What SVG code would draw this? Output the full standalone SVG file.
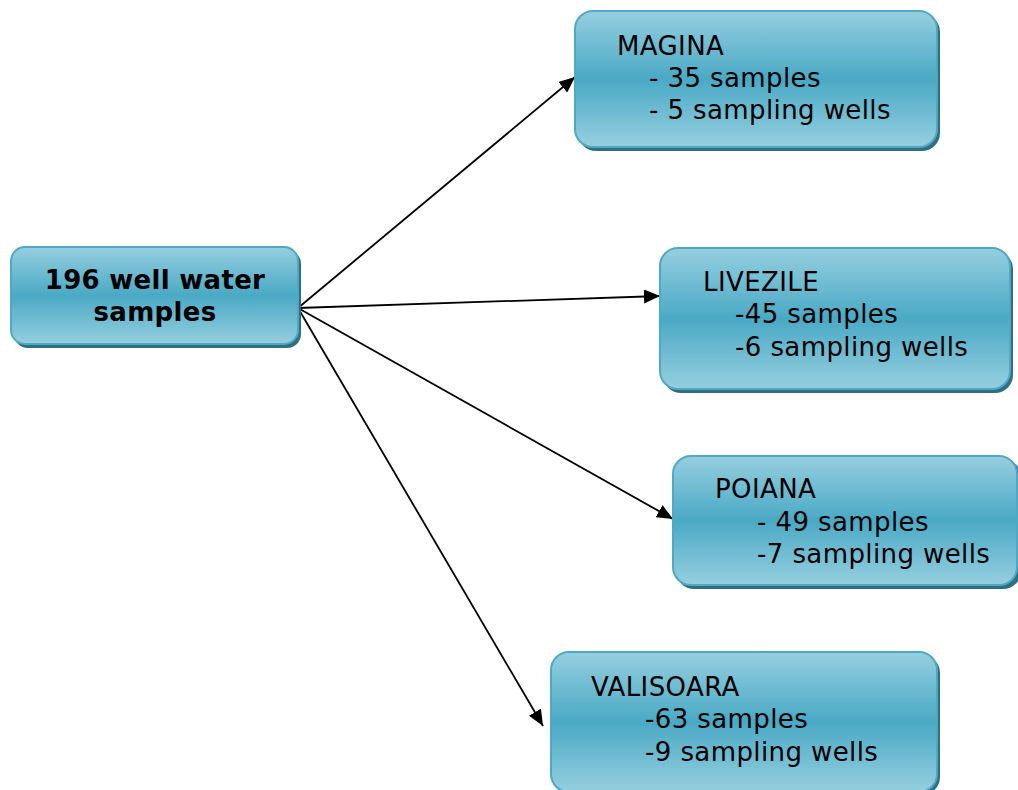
<svg xmlns="http://www.w3.org/2000/svg" width="1018" height="790" viewBox="0 0 1018 790">
<defs>
<linearGradient id="g" x1="0" y1="0" x2="0" y2="1">
<stop offset="0" stop-color="#96cfdf"/>
<stop offset="0.5" stop-color="#4aa9c5"/>
<stop offset="1" stop-color="#96cfdf"/>
</linearGradient>
<marker id="ah" markerWidth="16" markerHeight="14" refX="16" refY="7" orient="auto" markerUnits="userSpaceOnUse" viewBox="0 0 16 14">
<path d="M0,0 L16,7 L0,14 z" fill="#000"/>
</marker>
<style>
.sh{fill:#2f6f82;}
.bx{fill:url(#g);stroke:#4fa8c4;stroke-width:2;}
.t{font-family:"DejaVu Sans",Verdana,sans-serif;font-size:26px;letter-spacing:0.4px;fill:#000;}
.b{font-weight:bold;font-size:26px;letter-spacing:0.3px;}
.c{stroke:#000;stroke-width:1.8;fill:none;marker-end:url(#ah);}
</style>
</defs>
<rect width="1018" height="790" fill="#fff"/>
<g id="connectors">
<line class="c" x1="298" y1="308" x2="575" y2="77"/>
<line class="c" x1="298" y1="308" x2="660" y2="296"/>
<line class="c" x1="298" y1="308" x2="673" y2="519"/>
<line class="c" x1="298" y1="308" x2="543" y2="726"/>
</g>
<g id="source">
<rect class="sh" x="14" y="250" width="287" height="98" rx="14"/>
<rect class="bx" x="11" y="247" width="287" height="97" rx="14"/>
<text class="t b" x="155" y="289" text-anchor="middle">196 well water</text>
<text class="t b" x="155" y="321" text-anchor="middle">samples</text>
</g>
<g id="magina">
<rect class="sh" x="578" y="14" width="362" height="137" rx="18"/>
<rect class="bx" x="575" y="11" width="362" height="136" rx="18"/>
<text class="t" x="617" y="55">MAGINA</text>
<text class="t" x="649" y="87">- 35 samples</text>
<text class="t" x="649" y="119">- 5 sampling wells</text>
</g>
<g id="livezile">
<rect class="sh" x="663" y="251" width="350" height="142" rx="18"/>
<rect class="bx" x="660" y="248" width="350" height="141" rx="18"/>
<text class="t" x="703" y="291">LIVEZILE</text>
<text class="t" x="735" y="323">-45 samples</text>
<text class="t" x="735" y="356">-6 sampling wells</text>
</g>
<g id="poiana">
<rect class="sh" x="676" y="459" width="345" height="130" rx="18"/>
<rect class="bx" x="673" y="456" width="344" height="129" rx="18"/>
<text class="t" x="715" y="498">POIANA</text>
<text class="t" x="757" y="531">- 49 samples</text>
<text class="t" x="757" y="563">-7 sampling wells</text>
</g>
<g id="valisoara">
<rect class="sh" x="554" y="655" width="386" height="140" rx="18"/>
<rect class="bx" x="551" y="652" width="386" height="140" rx="18"/>
<text class="t" x="591" y="696">VALISOARA</text>
<text class="t" x="645" y="728">-63 samples</text>
<text class="t" x="645" y="761">-9 sampling wells</text>
</g>
</svg>
